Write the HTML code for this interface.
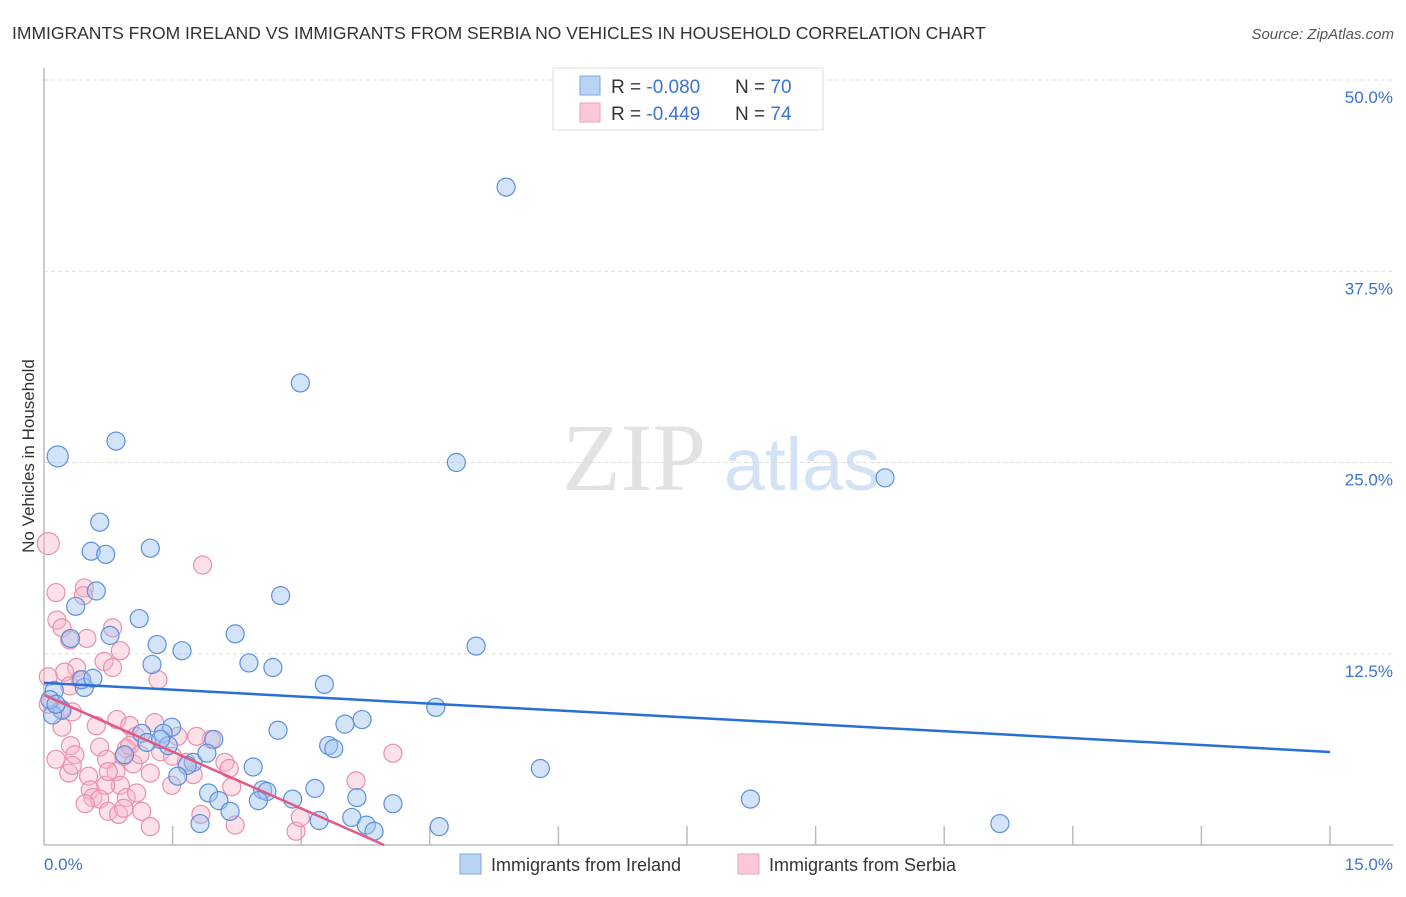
<!DOCTYPE html>
<html><head><meta charset="utf-8"><style>
body{margin:0;background:#fff;font-family:"Liberation Sans",sans-serif;}
</style></head><body>
<svg width="1406" height="892" xmlns="http://www.w3.org/2000/svg" id="chart">
<text x="12" y="39" font-size="17.5" fill="#333">IMMIGRANTS FROM IRELAND VS IMMIGRANTS FROM SERBIA NO VEHICLES IN HOUSEHOLD CORRELATION CHART</text>
<text x="1394" y="39" font-size="15" fill="#555" font-style="italic" text-anchor="end">Source: ZipAtlas.com</text>
<g>
<text x="634" y="490" font-size="96" fill="#e2e2e2" font-family="Liberation Serif,serif" text-anchor="middle">ZIP</text>
<text x="802" y="490" font-size="74" fill="#d4e2f5" text-anchor="middle">atlas</text>
</g>
<g id="grid"></g>
<g id="ylabels"></g>
<line x1="44" y1="68" x2="44" y2="845" stroke="#bbb" stroke-width="1.5"/>
<line x1="44" y1="845" x2="1393" y2="845" stroke="#bbb" stroke-width="1.5"/>
<g id="xticks"></g>
<text x="44" y="870" font-size="17" fill="#3a73d0">0.0%</text>
<text x="1393" y="870" font-size="17" fill="#3a73d0" text-anchor="end">15.0%</text>
<text transform="translate(34,456) rotate(-90)" font-size="17" fill="#333" text-anchor="middle">No Vehicles in Household</text>
<g id="pts"></g>
<g id="trend"></g>
<g>
<rect x="553" y="68" width="270" height="62" fill="#fff" stroke="#ddd"/>
<rect x="580" y="76" width="20" height="19" fill="#b9d3f5" stroke="#7fa7e0"/>
<rect x="580" y="103" width="20" height="19" fill="#fac8d6" stroke="#eea0b6"/>
<text x="611" y="93" font-size="19" fill="#333">R = <tspan fill="#3a73d0">-0.080</tspan><tspan x="735">N = </tspan><tspan fill="#3a73d0">70</tspan></text>
<text x="611" y="120" font-size="19" fill="#333">R = <tspan fill="#3a73d0"> -0.449</tspan><tspan x="735">N = </tspan><tspan fill="#3a73d0"> 74</tspan></text>
</g>
<g>
<rect x="460" y="854" width="21" height="20" fill="#b9d3f5" stroke="#7fa7e0"/>
<text x="491" y="871" font-size="18" fill="#333">Immigrants from Ireland</text>
<rect x="738" y="854" width="21" height="20" fill="#fac8d6" stroke="#eea0b6"/>
<text x="769" y="871" font-size="18" fill="#333">Immigrants from Serbia</text>
</g>
</svg>
<script>
const yTicks=[12.5,25,37.5,50];
const yTickLabels=["12.5%","25.0%","37.5%","50.0%"];
const xTicks=[1.5,3,4.5,6,7.5,9,10.5,12,13.5,15];
const irelandX=[.16,.84,5.39,2.99,4.81,9.81,.65,.55,.72,1.24,.61,.37,1.11,.31,.77,2.76,2.23,1.32,1.61,1.26,2.39,2.67,5.04,3.27,.12,.47,.44,.21,4.57,3.71,3.51,1.49,1.14,1.39,2.73,1.98,1.45,3.32,3.38,.94,1.74,1.67,1.90,2.44,1.56,5.79,3.16,2.55,2.60,1.92,2.50,2.90,3.65,4.07,2.04,8.24,2.17,1.82,3.21,3.59,3.76,3.85,4.61,11.15,.10,.07,1.20,1.36,.57,.14];
const irelandY=[25.4,26.4,43.0,30.2,25.0,24.0,21.1,19.2,19.0,19.4,16.6,15.6,14.8,13.5,13.7,16.3,13.8,13.1,12.7,11.8,11.9,11.6,13.0,10.5,10.1,10.3,10.8,8.8,9.0,8.2,7.9,7.7,7.3,7.3,7.5,6.9,6.5,6.5,6.3,5.9,5.4,5.2,6.0,5.1,4.5,5.0,3.7,3.6,3.5,3.4,2.9,3.0,3.1,2.7,2.9,3.0,2.2,1.4,1.6,1.8,1.3,.9,1.2,1.4,8.5,9.5,6.7,6.9,10.9,9.2];
const serbiaX=[.05,.14,.47,.15,.21,.30,.50,.80,1.85,1.33,.70,.38,.24,.89,.42,.30,.05,.05,.33,.31,.21,.36,.14,.61,.85,1.00,1.29,1.56,1.07,.65,.96,1.36,.93,.73,.84,.29,.33,.52,1.04,1.24,1.74,2.11,2.16,1.49,1.66,.54,.57,.89,.72,.65,.96,.75,.87,1.14,.93,1.24,1.83,2.23,2.94,2.99,3.64,4.07,1.95,1.50,1.78,.75,.48,1.08,2.19,1.00,1.12,.80,.46,.20];
const serbiaY=[19.7,16.5,16.8,14.7,14.2,13.4,13.5,14.2,18.3,10.8,12.0,11.6,11.3,12.7,10.8,10.4,11.0,9.2,8.7,6.5,7.7,5.9,5.6,7.8,8.2,7.8,8.0,7.1,7.1,6.4,6.3,6.1,5.8,5.6,4.8,4.7,5.2,4.5,5.3,4.7,4.6,5.4,5.0,3.9,5.4,3.6,3.1,3.9,3.9,3.0,3.1,2.2,2.0,2.2,2.4,1.2,2.0,1.3,.9,1.8,4.2,6.0,6.9,5.8,7.1,4.8,2.7,3.4,3.8,6.5,5.9,11.6,16.3,8.9];
const irelandTrend=[10.6,6.08];
const serbiaTrend=[9.8,-2.47];
const NS="http://www.w3.org/2000/svg";
const X=v=>44+v*(1286/15), Y=v=>845-v*15.3;
function mk(t,a,p){const e=document.createElementNS(NS,t);for(const k in a)e.setAttribute(k,a[k]);p.appendChild(e);return e;}
const grid=document.getElementById('grid'),yl=document.getElementById('ylabels');
yTicks.forEach((t,i)=>{
 const l=mk('line',{x1:44,x2:1393,y1:Y(t),y2:Y(t),stroke:'#ddd','stroke-dasharray':'4,3'},grid);
 
 
 const tx=mk('text',{x:1393,y:Y(t)+23,'font-size':17,fill:'#3a73d0','text-anchor':'end'},yl);
 tx.textContent=yTickLabels[i];
 
 
});
const xt=document.getElementById('xticks');
xTicks.forEach(t=>{
 const l=mk('line',{x1:X(t),x2:X(t),y1:826,y2:845,stroke:'#bbb','stroke-width':1.5},xt);
 
 
});
const pts=document.getElementById('pts');
serbiaX.forEach((v,i)=>{
 const c=mk('circle',{cx:X(v),cy:Y(serbiaY[i]),r:i==0?11:9,fill:'rgba(248,180,200,0.4)',stroke:'#eb8fa9','stroke-width':1.2},pts);
 
 
});
irelandX.forEach((v,i)=>{
 const c=mk('circle',{cx:X(v),cy:Y(irelandY[i]),r:i==0?10.5:9,fill:'rgba(160,196,240,0.45)',stroke:'#5b8fdd','stroke-width':1.2},pts);
 
 
});
const tr=document.getElementById('trend');
const bl=mk('line',{x1:X(0),y1:Y(irelandTrend[0]),x2:X(15),y2:Y(irelandTrend[1]),stroke:'#2a6fd6','stroke-width':2.5},tr);


const xe=-serbiaTrend[0]/serbiaTrend[1];
const pl=mk('line',{x1:X(0),y1:Y(serbiaTrend[0]),x2:X(xe),y2:Y(0),stroke:'#e05a85','stroke-width':2.5},tr);


</script>
</body></html>
